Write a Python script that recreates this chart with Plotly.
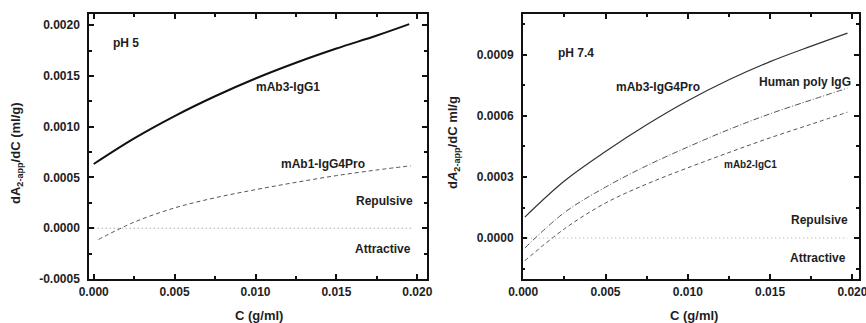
import plotly.graph_objects as go

# ---- pH 5 panel ----
c_ph5 = [0.0000, 0.0025, 0.0050, 0.0075, 0.0100, 0.0125, 0.0150, 0.0175, 0.0195]
mab3_igg1 = [0.000633, 0.000885, 0.001105, 0.001300, 0.001475, 0.001630, 0.001770, 0.001898, 0.002010]

c_mab1 = [0.0003, 0.0025, 0.0050, 0.0075, 0.0100, 0.0125, 0.0150, 0.0175, 0.0196]
mab1_igg4pro = [-0.000110, 0.000060, 0.000200, 0.000300, 0.000380, 0.000452, 0.000518, 0.000574, 0.000615]

# ---- pH 7.4 panel ----
c_ph74 = [0.0001, 0.0025, 0.0050, 0.0075, 0.0100, 0.0125, 0.0150, 0.0175, 0.0197]
mab3_igg4pro = [0.000103, 0.000280, 0.000425, 0.000556, 0.000674, 0.000777, 0.000866, 0.000942, 0.001006]
human_poly_igg = [-0.000049, 0.000125, 0.000250, 0.000355, 0.000447, 0.000533, 0.000610, 0.000678, 0.000736]
mab2_igg1 = [-0.000111, 0.000045, 0.000172, 0.000265, 0.000345, 0.000420, 0.000492, 0.000559, 0.000618]

zero_x = [0.0, 0.0197]
zero_y = [0.0, 0.0]

x_ticks = [0.000, 0.005, 0.010, 0.015, 0.020]
x_ticktext = ["0.000", "0.005", "0.010", "0.015", "0.020"]
y1_ticks = [-0.0005, 0.0, 0.0005, 0.0010, 0.0015, 0.0020]
y1_ticktext = ["-0.0005", "0.0000", "0.0005", "0.0010", "0.0015", "0.0020"]
y2_ticks = [0.0, 0.0003, 0.0006, 0.0009]
y2_ticktext = ["0.0000", "0.0003", "0.0006", "0.0009"]

FONT = "Liberation Sans, Arial, sans-serif"
INK = "#1e1e1e"


def bold(labels):
    return ["<b>%s</b>" % t for t in labels]


fig = go.Figure()

# pH 5 curves
fig.add_trace(go.Scatter(x=c_ph5, y=mab3_igg1, mode="lines", line=dict(color="#111", width=2, shape="spline"),
                         xaxis="x", yaxis="y"))
fig.add_trace(go.Scatter(x=c_mab1, y=mab1_igg4pro, mode="lines", line=dict(color="#555", width=1, dash="4px,3px", shape="spline"),
                         xaxis="x", yaxis="y"))
fig.add_trace(go.Scatter(x=zero_x, y=zero_y, mode="lines", line=dict(color="#888", width=1, dash="1px,3px"),
                         xaxis="x", yaxis="y"))

# pH 7.4 curves
fig.add_trace(go.Scatter(x=c_ph74, y=mab3_igg4pro, mode="lines", line=dict(color="#333", width=1.2, shape="spline"),
                         xaxis="x2", yaxis="y2"))
fig.add_trace(go.Scatter(x=c_ph74, y=human_poly_igg, mode="lines", line=dict(color="#555", width=1, dash="6px,2px,1px,2px", shape="spline"),
                         xaxis="x2", yaxis="y2"))
fig.add_trace(go.Scatter(x=c_ph74, y=mab2_igg1, mode="lines", line=dict(color="#555", width=1, dash="4px,3px", shape="spline"),
                         xaxis="x2", yaxis="y2"))
fig.add_trace(go.Scatter(x=zero_x, y=zero_y, mode="lines", line=dict(color="#aaa", width=1, dash="1px,3px"),
                         xaxis="x2", yaxis="y2"))

axis_common = dict(showline=True, linecolor="#111", linewidth=1.5, mirror="allticks",
                   ticks="inside", ticklen=5, tickwidth=1.5, tickcolor="#111",
                   showgrid=False, zeroline=False, automargin=False, ticklabeloverflow="allow",
                   tickfont=dict(family=FONT, size=12, color=INK))
x_common = dict(ticklabelstandoff=1, minor=dict(dtick=0.0025, ticks="inside", ticklen=3, tickcolor="#111"), **axis_common)
y_common = dict(ticklabelstandoff=5, **axis_common)

fig.update_layout(
    width=866, height=323,
    margin=dict(l=0, r=0, t=0, b=0),
    plot_bgcolor="white", paper_bgcolor="white",
    showlegend=False,
    font=dict(family=FONT, color=INK),
    xaxis=dict(domain=[0.1028, 0.4931], range=[-0.00029, 0.0206], tickvals=x_ticks, ticktext=bold(x_ticktext),
               anchor="y", **x_common),
    yaxis=dict(domain=[0.1362, 0.9567], range=[-0.0005, 0.00211], tickvals=y1_ticks, ticktext=bold(y1_ticktext),
               minor=dict(dtick=0.00025, tick0=0, ticks="inside", ticklen=3, tickcolor="#111"), anchor="x", **y_common),
    xaxis2=dict(domain=[0.6036, 0.9919], range=[-0.00003, 0.0204], tickvals=x_ticks, ticktext=bold(x_ticktext),
                anchor="y2", **x_common),
    yaxis2=dict(domain=[0.1362, 0.9567], range=[-0.000201, 0.0011], tickvals=y2_ticks, ticktext=bold(y2_ticktext),
                minor=dict(dtick=0.00015, tick0=0, ticks="inside", ticklen=3, tickcolor="#111"), anchor="x2", **y_common),
)


def label(text, x, y, ref, size=12, **kw):
    fig.add_annotation(text=text, x=x, y=y, xref=ref[0], yref=ref[1], showarrow=False,
                       xanchor="center", yanchor="middle",
                       font=dict(family=FONT, size=size, color=INK), **kw)


# panel texts (data coordinates)
label("<b>pH 5</b>", 0.0020, 0.00182, ("x", "y"))
label("<b>mAb3-IgG1</b>", 0.0120, 0.00139, ("x", "y"))
label("<b>mAb1-IgG4Pro</b>", 0.0142, 0.00063, ("x", "y"))
label("<b>Repulsive</b>", 0.0180, 0.00027, ("x", "y"))
label("<b>Attractive</b>", 0.0179, -0.00020, ("x", "y"))

label("<b>pH 7.4</b>", 0.0032, 0.00091, ("x2", "y2"))
label("<b>mAb3-IgG4Pro</b>", 0.0082, 0.00074, ("x2", "y2"))
label("<b>Human poly IgG</b>", 0.0171, 0.000765, ("x2", "y2"))
label("<b>mAb2-IgC1</b>", 0.0138, 0.000360, ("x2", "y2"), size=10)
label("<b>Repulsive</b>", 0.0180, 0.000090, ("x2", "y2"))
label("<b>Attractive</b>", 0.0179, -0.000100, ("x2", "y2"))

# axis titles (paper coordinates)
label("<b>C (g/ml)</b>", 259 / 866, 1 - 315 / 323, ("paper", "paper"), size=13)
label("<b>C (g/ml)</b>", 694 / 866, 1 - 315 / 323, ("paper", "paper"), size=13)
label("<b>dA<sub>2-app</sub>/dC (ml/g)</b>", 17 / 866, 1 - 153 / 323, ("paper", "paper"), size=13, textangle=-90)
label("<b>d<i>A</i><sub>2-app</sub>/dC ml/g</b>", 453 / 866, 1 - 143 / 323, ("paper", "paper"), size=13, textangle=-90)

fig.write_html("out.html")
